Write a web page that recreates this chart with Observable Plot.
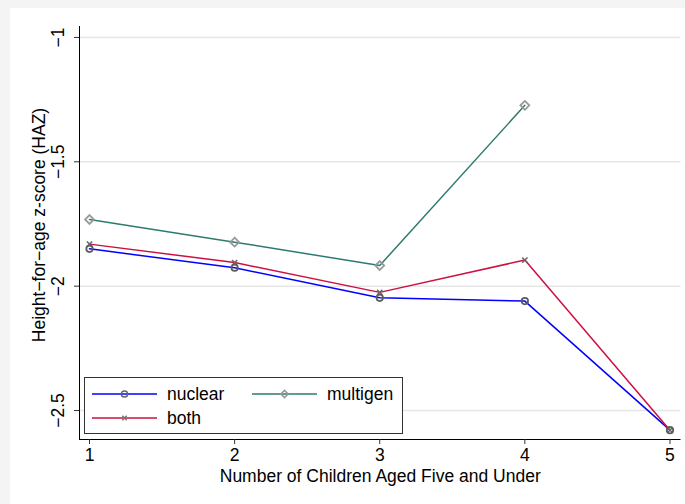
<!DOCTYPE html>
<html>
<head>
<meta charset="utf-8">
<script src="https://cdn.jsdelivr.net/npm/d3@7"></script>
<script src="https://cdn.jsdelivr.net/npm/@observablehq/plot@0.6"></script>
<style>
  html, body { margin: 0; padding: 0; background: #f4f4f4; }
  body { width: 685px; height: 504px; position: relative; overflow: hidden; font-family: "Liberation Sans", Arial, sans-serif; }
  #graph { position: absolute; left: 10px; top: 8px; width: 675px; height: 496px; background: #fff; }
  #legend { position: absolute; left: 74px; top: 369px; width: 317px; height: 55px; border: 1px solid #333; background: #fff; }
  #legend svg { display: block; }
</style>
</head>
<body>
<div id="graph"><div id="legend"></div></div>
<script>
// Mean height-for-age z-score by number of children aged five and under
const children = [1, 2, 3, 4, 5];
const nuclear  = [-1.850, -1.926, -2.047, -2.060, -2.579];
const both     = [-1.831, -1.905, -2.025, -1.895, -2.579];
const multigen = [-1.732, -1.823, -1.917, -1.273, null];

const xTicks = [1, 2, 3, 4, 5];
const yTicks = [-1, -1.5, -2, -2.5];
const xDomain = [0.931, 5.076];
const yDomain = [-2.6165, -0.956];

const seriesNames = ["nuclear", "both", "multigen"];
const colors = { nuclear: "#0000ff", both: "#cc1041", multigen: "#2e7a6e" };

const rows = [];
children.forEach((c, i) => {
  rows.push({ series: "nuclear", x: c, y: nuclear[i] });
  rows.push({ series: "both", x: c, y: both[i] });
  rows.push({ series: "multigen", x: c, y: multigen[i] });
});
const valid = rows.filter(d => d.y != null);
const of = s => valid.filter(d => d.series === s);
const fmt = d => String(d).replace("-", "\u2212");
const FS = 17.5;

const chart = Plot.plot({
  width: 675,
  height: 496,
  marginLeft: 69,
  marginRight: 4.5,
  marginTop: 18,
  marginBottom: 65,
  style: { fontFamily: "Liberation Sans, Arial, sans-serif", fontSize: FS + "px", background: "transparent", color: "#000" },
  x: { domain: xDomain, label: null },
  y: { domain: yDomain, label: null },
  marks: [
    Plot.ruleY(yTicks, { stroke: "#e6e6e6", strokeWidth: 1.5 }),
    Plot.ruleX([xDomain[0]], { stroke: "#000", strokeWidth: 1 }),
    Plot.ruleY([yDomain[0]], { stroke: "#000", strokeWidth: 1 }),
    Plot.axisY({ ticks: yTicks, tickSize: 5, tickFormat: () => "", label: null, stroke: "#333" }),
    Plot.text(yTicks, { y: d => d, text: fmt, frameAnchor: "left", dx: -21, rotate: -90, textAnchor: "middle", lineAnchor: "middle", fontSize: FS, fill: "#000" }),
    Plot.axisX({ ticks: xTicks, tickSize: 5, tickPadding: 4, tickFormat: fmt, label: null, stroke: "#333", fontSize: FS }),
    Plot.text(["Number of Children Aged Five and Under"], { frameAnchor: "bottom", dy: 37, lineAnchor: "middle", fontSize: FS, fill: "#000" }),
    Plot.text(["Height\u2212for\u2212age z-score (HAZ)"], { frameAnchor: "left", dx: -40, dy: -8, rotate: -90, textAnchor: "middle", lineAnchor: "middle", fontSize: FS, fill: "#000" }),
    ...seriesNames.map(s => Plot.line(of(s), { x: "x", y: "y", stroke: colors[s], strokeWidth: 1.5 })),
    Plot.dot(of("multigen"), { x: "x", y: "y", symbol: "diamond2", r: 4, stroke: "#999", strokeWidth: 1.8, fill: "none" }),
    Plot.dot(of("both"), { x: "x", y: "y", symbol: "times", r: 2.5, stroke: "#666", strokeWidth: 1.5 }),
    Plot.dot(of("nuclear"), { x: "x", y: "y", symbol: "circle", r: 3.2, stroke: "#5c5c5c", strokeWidth: 1.8, fill: "none" })
  ]
});
document.getElementById("graph").prepend(chart);
chart.style.position = "absolute";
chart.style.left = "0";
chart.style.top = "0";

// Legend: two columns, marker centred on each line sample
const legendItems = [
  { name: "nuclear", col: 0, row: 0, symbol: d3.symbolCircle, size: 30, stroke: "#666" },
  { name: "multigen", col: 1, row: 0, symbol: d3.symbolDiamond2, size: 34, stroke: "#999" },
  { name: "both", col: 0, row: 1, symbol: d3.symbolTimes, size: 14, stroke: "#777" }
];
const lsvg = d3.select("#legend").append("svg").attr("width", 317).attr("height", 55);
const item = lsvg.selectAll("g").data(legendItems).join("g")
  .attr("transform", d => `translate(${7 + d.col * 160},${16 + d.row * 24})`);
item.append("line").attr("x1", 0).attr("x2", 65).attr("y1", 0).attr("y2", 0)
  .attr("stroke", d => colors[d.name]).attr("stroke-width", 1.5);
item.append("path").attr("transform", "translate(32.5,0)")
  .attr("d", d => d3.symbol(d.symbol, d.size)())
  .attr("fill", "none").attr("stroke", d => d.stroke).attr("stroke-width", 1.5);
item.append("text").attr("x", 75).attr("y", 0).attr("dy", "0.35em")
  .attr("font-size", FS).attr("font-family", "Liberation Sans, Arial, sans-serif")
  .text(d => d.name);
</script>
</body>
</html>
